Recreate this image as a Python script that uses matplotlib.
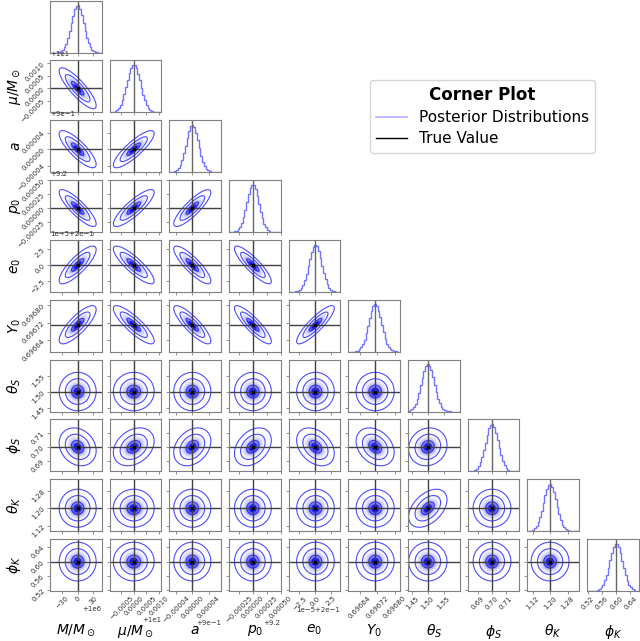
import math

import numpy as np
import matplotlib
matplotlib.use("Agg")
import matplotlib.pyplot as plt
from matplotlib.colors import LinearSegmentedColormap, PowerNorm
from matplotlib.lines import Line2D
from matplotlib.ticker import FixedLocator, NullFormatter, ScalarFormatter

labels = [r"$M/M_\odot$", r"$\mu/M_\odot$", r"$a$", r"$p_0$", r"$e_0$",
          r"$Y_0$", r"$\theta_S$", r"$\phi_S$", r"$\theta_K$", r"$\phi_K$"]
truths = [1e6, 10.0, 0.9, 9.2, 0.2, 0.69671, 1.5, 0.7, 1.2, 0.6]
sigmas = [12.0, 0.00027, 1.5e-5, 1.1e-4, 0.98e-5, 2.9e-5, 0.02, 0.0045, 0.029, 0.018]
# axis offsets used by the tick formatter (0 = none)
offsets = [1e6, 10.0, 0.9, 9.2, 0.2, 0, 0, 0, 0, 0]
# tick positions relative to the offset
ticks = [[-30, 0, 30],
         [-0.0005, 0.0, 0.0005, 0.0010],
         [-0.00004, 0.0, 0.00004],
         [-0.00025, 0.0, 0.00025, 0.00050],
         [-2.5e-5, 0.0, 2.5e-5],
         [0.69664, 0.69672, 0.69680],
         [1.45, 1.50, 1.55],
         [0.69, 0.70, 0.71],
         [1.12, 1.20, 1.28],
         [0.52, 0.56, 0.60, 0.64]]
# plotted range, relative to the true value
range_lo = [-54, -0.00096, -0.000056, -0.00043, -4.2e-5, -0.000123, -0.0625, -0.0175, -0.105, -0.082]
range_hi = [47, 0.0011, 0.00007, 0.0005, 3.9e-5, 0.000114, 0.10, 0.0196, 0.133, 0.063]
# pairwise correlations (row, col, rho); missing pairs are ~0
corr_pairs = [(1, 0, -0.85), (2, 0, -0.82), (2, 1, 0.85),
              (3, 0, -0.85), (3, 1, 0.85), (3, 2, 0.85),
              (4, 0, 0.82), (4, 1, -0.85), (4, 2, -0.85), (4, 3, -0.87),
              (5, 0, 0.80), (5, 1, -0.85), (5, 2, -0.85), (5, 3, -0.87), (5, 4, 0.87),
              (7, 0, -0.2), (7, 1, 0.3), (7, 2, 0.3), (7, 3, 0.35), (7, 4, -0.35),
              (7, 5, -0.3), (7, 6, 0.1), (8, 6, 0.45)]
sigma_levels = [0.5, 1.0, 2.0, 3.0]
nbins = 30

n = len(labels)
rho = {(i, j): r for i, j, r in corr_pairs}
erf = np.vectorize(math.erf)
dens_cmap = LinearSegmentedColormap.from_list("dens", [(1, 1, 1, 0), (0, 0, 0.85, 1)])


def lims(k):
    return truths[k] + range_lo[k], truths[k] + range_hi[k]


def setup_axis(axis, k, show):
    axis.set_major_locator(FixedLocator([offsets[k] + t for t in ticks[k]]))
    if show:
        axis.set_major_formatter(ScalarFormatter(useOffset=offsets[k] if offsets[k] else False))
        axis.get_offset_text().set_fontsize(5)
        axis.get_offset_text().set_color("0.2")
    else:
        axis.set_major_formatter(NullFormatter())


fig = plt.figure(figsize=(6.4, 6.41), dpi=100)
axes = fig.subplots(n, n)
fig.subplots_adjust(left=0.078, right=0.998, bottom=0.078, top=0.999,
                    wspace=0.15, hspace=0.15)

for i in range(n):
    for j in range(n):
        ax = axes[i, j]
        if j > i:
            ax.set_axis_off()
            continue
        for sp in ax.spines.values():
            sp.set_color("0.5")
            sp.set_linewidth(0.8)
        ax.tick_params(length=2, width=0.6, color="0.5", labelsize=5,
                       labelcolor="0.2", pad=1)
        xlo, xhi = lims(j)

        if i == j:
            edges = np.linspace(xlo, xhi, nbins + 1)
            cdf = 0.5 * (1 + erf((edges - truths[i]) / (sigmas[i] * math.sqrt(2))))
            counts = np.diff(cdf)
            ax.stairs(counts, edges, color="blue", alpha=0.55, lw=1)
            ax.axvline(truths[i], color="0.4", lw=1)
            ax.set_ylim(0, 1.1 * counts.max())
            ax.set_yticks([])
        else:
            ylo, yhi = lims(i)
            x = np.linspace(xlo, xhi, 160)
            y = np.linspace(ylo, yhi, 160)
            X, Y = np.meshgrid(x, y)
            u = (X - truths[j]) / sigmas[j]
            v = (Y - truths[i]) / sigmas[i]
            r = rho.get((i, j), 0.0)
            Q = (u * u - 2 * r * u * v + v * v) / (1 - r * r)
            ax.pcolormesh(x, y, np.exp(-0.5 * Q), cmap=dens_cmap,
                          norm=PowerNorm(gamma=2.2, vmin=0, vmax=1),
                          shading="gouraud", rasterized=True)
            ax.contour(x, y, Q, levels=[s * s for s in sigma_levels],
                       colors="blue", linewidths=0.8, alpha=0.7)
            ax.axvline(truths[j], color="0.25", lw=1)
            ax.axhline(truths[i], color="0.25", lw=1)
            ax.plot(truths[j], truths[i], "s", color="black", ms=1.8)
            ax.set_ylim(ylo, yhi)
            setup_axis(ax.yaxis, i, j == 0)
            if j == 0:
                ax.tick_params(axis="y", labelrotation=45)
                ax.set_ylabel(labels[i], fontsize=10)
                ax.yaxis.set_label_coords(-0.52, 0.5)

        ax.set_xlim(xlo, xhi)
        setup_axis(ax.xaxis, j, i == n - 1)
        if i == n - 1:
            ax.tick_params(axis="x", labelrotation=45)
            ax.xaxis.OFFSETTEXTPAD = -3
            ax.set_xlabel(labels[j], fontsize=10)
            ax.xaxis.set_label_coords(0.5, -0.61)

handles = [Line2D([], [], color="blue", alpha=0.3, lw=1.2),
           Line2D([], [], color="black", lw=1)]
fig.legend(handles, ["Posterior Distributions", "True Value"], title="Corner Plot",
           title_fontproperties={"weight": "bold", "size": 12}, fontsize=11,
           labelspacing=0.4, loc="upper left", bbox_to_anchor=(0.566, 0.887))

fig.savefig("out.png", dpi=100)
